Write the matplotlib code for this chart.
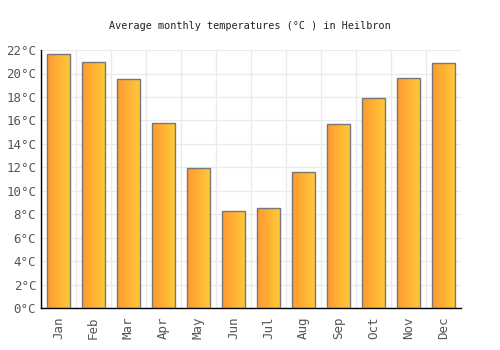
import matplotlib
matplotlib.use("Agg")
import matplotlib.pyplot as plt
import numpy as np
from matplotlib.colors import LinearSegmentedColormap

months = ["Jan", "Feb", "Mar", "Apr", "May", "Jun", "Jul", "Aug", "Sep", "Oct", "Nov", "Dec"]
temps = [21.7, 21.0, 19.5, 15.8, 11.9, 8.3, 8.5, 11.6, 15.7, 17.9, 19.6, 20.9]
yticks = list(range(0, 23, 2))
ylabels = [f"{v}°C" for v in yticks]

plt.rcParams['font.family'] = ['DejaVu Sans Mono']

fig = plt.figure(figsize=(5, 3.5), dpi=100)
ax = fig.add_axes([0.082, 0.12, 0.84, 0.737])

cmap = LinearSegmentedColormap.from_list("g", ["#ff9a30", "#ffca3a"])
grad = np.linspace(0, 1, 64).reshape(1, -1)
width = 0.66
x = np.arange(len(months))
bars = ax.bar(x, temps, width=width, color="none", edgecolor="#777777", linewidth=1, zorder=3)
for b in bars:
    x0, y0 = b.get_x(), b.get_y()
    w, h = b.get_width(), b.get_height()
    im = ax.imshow(grad, extent=[x0, x0 + w, y0, y0 + h], aspect="auto", cmap=cmap, zorder=2)
    im.set_clip_path(b)

ax.set_xlim(-0.5, len(months) - 0.5)
ax.set_ylim(0, 22)
ax.set_yticks(yticks)
ax.set_yticklabels(ylabels)
ax.set_xticks(x)
ax.set_xticklabels(months, rotation=90)
ax.set_xticks(np.arange(len(months) + 1) - 0.5, minor=True)
ax.grid(True, axis="y", color="#ebebeb", linewidth=1, zorder=0)
ax.grid(True, axis="x", which="minor", color="#ebebeb", linewidth=1, zorder=0)
ax.tick_params(axis="both", which="both", length=0, labelsize=9, labelcolor="#555555")
ax.tick_params(axis="x", pad=6)
for s in ["top", "right"]:
    ax.spines[s].set_visible(False)
for s in ["left", "bottom"]:
    ax.spines[s].set_color("black")
    ax.spines[s].set_linewidth(1)
ax.set_axisbelow(True)
fig.text(0.5, 0.925, "Average monthly temperatures (°C ) in Heilbron", ha="center", va="center", fontsize=7.3, color="#222222")
fig.savefig("out.png", dpi=100)
